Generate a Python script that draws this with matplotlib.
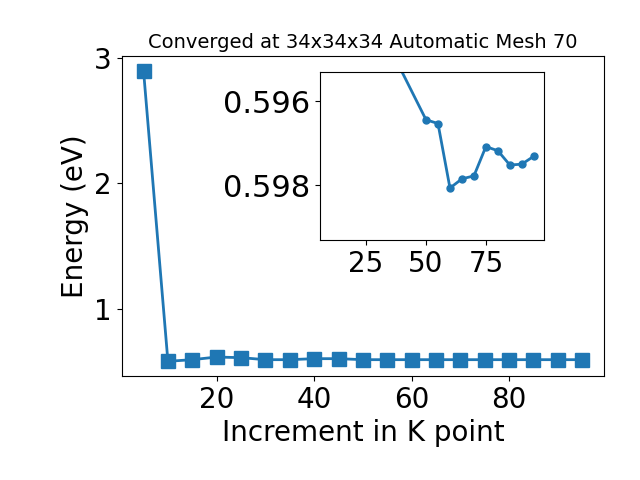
import matplotlib
matplotlib.use("Agg")
import matplotlib.pyplot as plt

# main convergence curve
kpoints = [5, 10, 15, 20, 25, 30, 35, 40, 45, 50, 55, 60, 65, 70, 75, 80, 85, 90, 95]
energy = [2.896, 0.586, 0.599, 0.620, 0.615, 0.599, 0.599, 0.607, 0.607, 0.599,
          0.599, 0.599, 0.599, 0.599, 0.599, 0.599, 0.599, 0.599, 0.599]

# zoomed-in inset
inset_k = [10, 20, 30, 50, 55, 60, 65, 70, 75, 80, 85, 90, 95]
inset_e = [0.5870, 0.5905, 0.59416, 0.59644, 0.59653, 0.59807, 0.59785, 0.59778,
           0.59708, 0.59718, 0.59752, 0.59750, 0.59731]

fig, ax = plt.subplots(figsize=(6.4, 4.8), dpi=100)
fig.subplots_adjust(left=0.19, right=0.944, top=0.883, bottom=0.217)
ax.plot(kpoints, energy, marker="s", markersize=10, linewidth=2, color="#1f77b4")
ax.set_xlabel("Increment in K point", fontsize=20)
ax.set_ylabel("Energy (eV)", fontsize=20)
ax.set_title("Converged at 34x34x34 Automatic Mesh 70", fontsize=14)
ax.tick_params(labelsize=20)

ins = fig.add_axes([0.5, 0.5, 0.35, 0.35])
ins.plot(inset_k, inset_e, marker="o", markersize=5, linewidth=2, color="#1f77b4")
ins.set_ylim(0.59931, 0.59530)
ins.set_yticks([0.596, 0.598])
ins.set_yticklabels(["0.596", "0.598"])
ins.set_xticks([25, 50, 75])
ins.tick_params(axis="x", labelsize=20)
ins.tick_params(axis="y", labelsize=22)

fig.savefig("out.png", dpi=100)
